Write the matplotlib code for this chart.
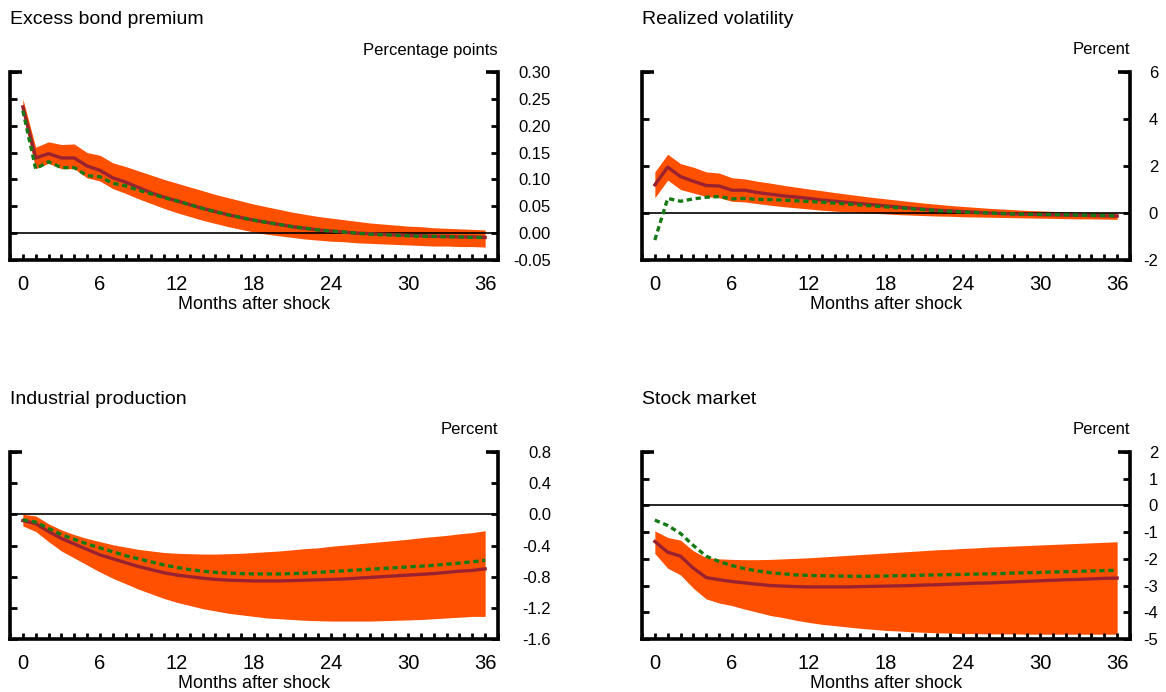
import matplotlib
matplotlib.use("Agg")
import matplotlib.pyplot as plt
import numpy as np
from matplotlib.ticker import FixedLocator, MultipleLocator

plt.rcParams['font.family'] = ['Liberation Sans', 'DejaVu Sans']

months = np.arange(37)

# Excess bond premium (percentage points)
ebp_mid = [0.235, 0.140, 0.148, 0.140, 0.140, 0.125, 0.117, 0.103, 0.095, 0.085,
           0.075, 0.067, 0.060, 0.053, 0.046, 0.040, 0.034, 0.029, 0.024, 0.020,
           0.016, 0.012, 0.009, 0.006, 0.004, 0.002, 0.000, -0.001, -0.002, -0.003,
           -0.004, -0.005, -0.006, -0.006, -0.007, -0.007, -0.008]
ebp_hi = [0.250, 0.160, 0.170, 0.165, 0.166, 0.150, 0.145, 0.131, 0.124, 0.116,
          0.108, 0.100, 0.093, 0.086, 0.079, 0.072, 0.066, 0.060, 0.054, 0.049,
          0.044, 0.039, 0.035, 0.031, 0.028, 0.025, 0.022, 0.019, 0.017, 0.015,
          0.013, 0.012, 0.010, 0.009, 0.008, 0.007, 0.006]
ebp_lo = [0.222, 0.120, 0.130, 0.120, 0.120, 0.103, 0.097, 0.083, 0.074, 0.064,
          0.055, 0.046, 0.038, 0.031, 0.024, 0.018, 0.012, 0.007, 0.002, -0.002,
          -0.005, -0.008, -0.011, -0.013, -0.015, -0.016, -0.018, -0.019, -0.020, -0.021,
          -0.022, -0.023, -0.024, -0.024, -0.025, -0.025, -0.026]
ebp_alt = [0.228, 0.120, 0.133, 0.122, 0.122, 0.107, 0.105, 0.093, 0.088, 0.080,
           0.073, 0.066, 0.060, 0.053, 0.046, 0.040, 0.034, 0.029, 0.024, 0.020,
           0.016, 0.012, 0.009, 0.006, 0.004, 0.002, 0.000, -0.002, -0.003, -0.004,
           -0.005, -0.006, -0.006, -0.007, -0.007, -0.008, -0.008]

# Realized volatility (percent)
vol_mid = [1.20, 1.95, 1.55, 1.35, 1.17, 1.15, 0.97, 0.97, 0.87, 0.80,
           0.73, 0.68, 0.62, 0.55, 0.50, 0.45, 0.40, 0.35, 0.30, 0.25,
           0.20, 0.16, 0.12, 0.09, 0.06, 0.03, 0.00, -0.02, -0.04, -0.05,
           -0.07, -0.08, -0.09, -0.10, -0.11, -0.12, -0.13]
vol_hi = [1.75, 2.50, 2.10, 1.95, 1.75, 1.70, 1.50, 1.45, 1.35, 1.27,
          1.18, 1.10, 1.02, 0.95, 0.87, 0.80, 0.73, 0.66, 0.60, 0.54,
          0.48, 0.42, 0.37, 0.32, 0.28, 0.24, 0.20, 0.17, 0.14, 0.11,
          0.09, 0.07, 0.05, 0.03, 0.02, 0.01, 0.00]
vol_lo = [0.65, 1.40, 1.00, 0.85, 0.70, 0.65, 0.50, 0.47, 0.40, 0.33,
          0.27, 0.22, 0.17, 0.12, 0.08, 0.05, 0.02, -0.01, -0.04, -0.07,
          -0.09, -0.11, -0.13, -0.14, -0.16, -0.17, -0.18, -0.19, -0.20, -0.21,
          -0.22, -0.23, -0.24, -0.25, -0.25, -0.26, -0.27]
vol_alt = [-1.15, 0.62, 0.50, 0.60, 0.67, 0.70, 0.60, 0.62, 0.58, 0.57,
           0.55, 0.52, 0.49, 0.46, 0.42, 0.38, 0.34, 0.30, 0.26, 0.22,
           0.18, 0.14, 0.10, 0.07, 0.04, 0.02, 0.00, -0.02, -0.04, -0.05,
           -0.06, -0.07, -0.08, -0.09, -0.10, -0.11, -0.12]

# Industrial production (percent)
ip_mid = [-0.08, -0.12, -0.22, -0.31, -0.38, -0.45, -0.52, -0.57, -0.62, -0.67,
          -0.71, -0.75, -0.78, -0.80, -0.82, -0.835, -0.845, -0.85, -0.855, -0.855,
          -0.855, -0.85, -0.845, -0.84, -0.835, -0.83, -0.82, -0.81, -0.80, -0.79,
          -0.78, -0.77, -0.76, -0.745, -0.73, -0.72, -0.70]
ip_hi = [0.00, -0.02, -0.12, -0.20, -0.26, -0.31, -0.35, -0.39, -0.42, -0.45,
         -0.47, -0.49, -0.50, -0.505, -0.51, -0.51, -0.505, -0.50, -0.49, -0.48,
         -0.47, -0.455, -0.44, -0.43, -0.41, -0.395, -0.38, -0.365, -0.35, -0.335,
         -0.32, -0.30, -0.285, -0.27, -0.25, -0.235, -0.21]
ip_lo = [-0.15, -0.22, -0.35, -0.47, -0.56, -0.65, -0.74, -0.82, -0.89, -0.96,
         -1.02, -1.08, -1.13, -1.17, -1.21, -1.24, -1.27, -1.29, -1.31, -1.33,
         -1.34, -1.35, -1.36, -1.365, -1.37, -1.37, -1.37, -1.37, -1.365, -1.36,
         -1.355, -1.35, -1.34, -1.33, -1.32, -1.31, -1.31]
ip_alt = [-0.07, -0.10, -0.18, -0.26, -0.32, -0.38, -0.43, -0.48, -0.53, -0.57,
          -0.61, -0.65, -0.68, -0.71, -0.73, -0.745, -0.755, -0.76, -0.765, -0.765,
          -0.765, -0.76, -0.755, -0.745, -0.735, -0.725, -0.715, -0.705, -0.695, -0.685,
          -0.675, -0.665, -0.655, -0.64, -0.625, -0.61, -0.59]

# Stock market (percent)
stk_mid = [-1.35, -1.75, -1.90, -2.35, -2.70, -2.78, -2.85, -2.90, -2.95, -3.00,
           -3.02, -3.04, -3.05, -3.05, -3.05, -3.05, -3.04, -3.03, -3.02, -3.01,
           -3.00, -2.98, -2.97, -2.95, -2.93, -2.91, -2.90, -2.88, -2.86, -2.84,
           -2.82, -2.80, -2.78, -2.77, -2.75, -2.73, -2.72]
stk_hi = [-0.95, -1.20, -1.30, -1.70, -1.95, -2.00, -2.02, -2.03, -2.03, -2.02,
          -2.00, -1.98, -1.96, -1.93, -1.90, -1.87, -1.84, -1.81, -1.78, -1.75,
          -1.72, -1.69, -1.66, -1.64, -1.61, -1.59, -1.56, -1.54, -1.52, -1.50,
          -1.48, -1.46, -1.44, -1.42, -1.40, -1.38, -1.36]
stk_lo = [-1.80, -2.35, -2.60, -3.10, -3.50, -3.65, -3.75, -3.88, -4.00, -4.12,
          -4.20, -4.30, -4.38, -4.45, -4.50, -4.55, -4.60, -4.64, -4.68, -4.70,
          -4.73, -4.75, -4.77, -4.78, -4.80, -4.80, -4.81, -4.81, -4.81, -4.82,
          -4.82, -4.82, -4.82, -4.82, -4.82, -4.82, -4.82]
stk_alt = [-0.55, -0.75, -1.05, -1.50, -1.90, -2.10, -2.25, -2.37, -2.45, -2.52,
           -2.56, -2.60, -2.62, -2.63, -2.64, -2.65, -2.65, -2.65, -2.64, -2.63,
           -2.62, -2.61, -2.60, -2.59, -2.58, -2.57, -2.56, -2.55, -2.53, -2.52,
           -2.51, -2.49, -2.48, -2.47, -2.45, -2.44, -2.43]

titles = ['Excess bond premium', 'Realized volatility',
          'Industrial production', 'Stock market']
units = ['Percentage points', 'Percent', 'Percent', 'Percent']
ylims = [(-0.05, 0.30), (-2, 6), (-1.6, 0.8), (-5, 2)]
yticks = [[-0.05, 0.0, 0.05, 0.10, 0.15, 0.20, 0.25, 0.30],
          [-2, 0, 2, 4, 6],
          [-1.6, -1.2, -0.8, -0.4, 0.0, 0.4, 0.8],
          [-5, -4, -3, -2, -1, 0, 1, 2]]
yfmt = ['{:.2f}', '{:.0f}', '{:.1f}', '{:.0f}']
series = [(ebp_mid, ebp_lo, ebp_hi, ebp_alt),
          (vol_mid, vol_lo, vol_hi, vol_alt),
          (ip_mid, ip_lo, ip_hi, ip_alt),
          (stk_mid, stk_lo, stk_hi, stk_alt)]

W, H = 1166, 692
band_color = '#FF5000'
mid_color = '#9A2230'
alt_color = '#157A15'

fig = plt.figure(figsize=(W / 100, H / 100), dpi=100)

# panel boxes in pixels: left, top, right, bottom
boxes = [(10, 72, 498, 260), (642, 72, 1130, 260),
         (10, 452, 498, 639), (642, 452, 1130, 639)]
label_right = [551, 1158, 551, 1158]

for i, (l, t, r, b) in enumerate(boxes):
    ax = fig.add_axes([l / W, 1 - b / H, (r - l) / W, (b - t) / H])
    mid, lo, hi, alt = series[i]

    ax.fill_between(months, lo, hi, color=band_color, linewidth=0, zorder=1)
    ax.axhline(0, color='black', linewidth=1.2, zorder=2)
    ax.plot(months, mid, color=mid_color, linewidth=2.4, zorder=3)
    ax.plot(months, alt, color=alt_color, linewidth=2.4,
            linestyle=(0, (1.6, 1.1)), zorder=4)

    ax.set_xlim(-1, 37)
    ax.set_ylim(*ylims[i])

    ax.spines['top'].set_visible(False)
    for side in ['left', 'right', 'bottom']:
        ax.spines[side].set_linewidth(2.6)

    # short caps at the top of both vertical spines
    cap = 12 / (r - l)
    ax.plot([0, cap], [1, 1], transform=ax.transAxes, color='black',
            linewidth=2.6, solid_capstyle='butt', clip_on=False, zorder=5)
    ax.plot([1 - cap, 1], [1, 1], transform=ax.transAxes, color='black',
            linewidth=2.6, solid_capstyle='butt', clip_on=False, zorder=5)

    ax.xaxis.set_major_locator(FixedLocator(range(0, 37, 6)))
    ax.xaxis.set_minor_locator(MultipleLocator(1))
    ax.tick_params(axis='x', which='both', direction='in', length=4.5,
                   width=2, top=False, labelsize=14.5, pad=11)

    ax.set_yticks(yticks[i])
    ax.set_yticklabels([yfmt[i].format(v) for v in yticks[i]])
    pad_pt = (label_right[i] - r) * 0.72
    ax.tick_params(axis='y', direction='in', length=5, width=2,
                   left=True, right=True, labelleft=False, labelright=True,
                   labelsize=12, pad=pad_pt)
    for lab in ax.get_yticklabels():
        lab.set_horizontalalignment('right')

    ax.set_xlabel('Months after shock', fontsize=13, labelpad=1)

    fig.text(l / W, 1 - (t - 53) / H, titles[i], fontsize=14,
             ha='left', va='center')
    fig.text(r / W, 1 - (t - 22) / H, units[i], fontsize=12,
             ha='right', va='center')

fig.savefig('out.png', dpi=100)
